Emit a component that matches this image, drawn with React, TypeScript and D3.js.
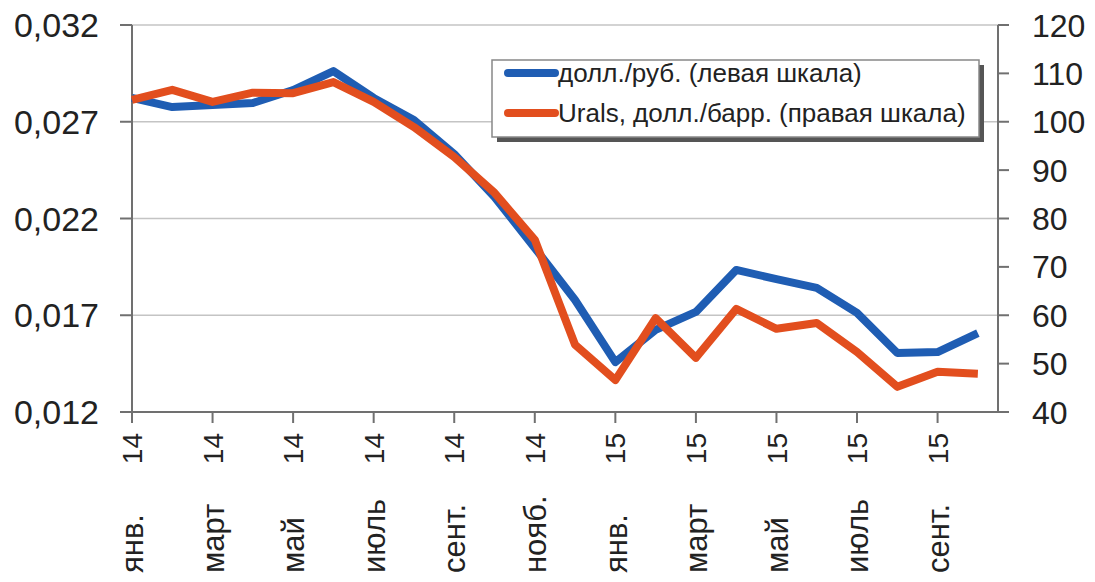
import { useRef, useEffect } from 'react';
import * as d3 from 'd3';

// monthly points, янв. 2014 – окт. 2015
const months = [
  'янв. 14', 'февр. 14', 'март 14', 'апр. 14', 'май 14', 'июнь 14',
  'июль 14', 'авг. 14', 'сент. 14', 'окт. 14', 'нояб. 14', 'дек. 14',
  'янв. 15', 'февр. 15', 'март 15', 'апр. 15', 'май 15', 'июнь 15',
  'июль 15', 'авг. 15', 'сент. 15', 'окт. 15',
];

const usdRub = [
  0.02823, 0.02776, 0.02787, 0.02797, 0.02864, 0.02962,
  0.02823, 0.02709, 0.02533, 0.02311, 0.02048, 0.01779,
  0.01458, 0.01624, 0.01717, 0.01934, 0.01887, 0.01841,
  0.01712, 0.01505, 0.0151, 0.01608,
];

const urals = [
  104.5, 106.6, 104.1, 106.0, 105.9, 108.2,
  104.1, 98.9, 92.7, 85.3, 75.6, 53.9,
  46.6, 59.4, 51.2, 61.3, 57.2, 58.4,
  52.4, 45.2, 48.3, 47.9,
];

const leftTicks = [0.012, 0.017, 0.022, 0.027, 0.032];
const rightTicks = [40, 50, 60, 70, 80, 90, 100, 110, 120];
const labelIdx = [0, 2, 4, 6, 8, 10, 12, 14, 16, 18, 20];

const legendItems = [
  { name: 'долл./руб. (левая шкала)', color: '#1f5db3' },
  { name: 'Urals, долл./барр. (правая шкала)', color: '#e24e1e' },
];

function App() {
  const svgRef = useRef(null);
  const width = 1095;
  const height = 582;

  useEffect(() => {
    document.body.style.margin = '0';
    const svg = d3.select(svgRef.current);
    svg.selectAll('*').remove();

    const font = 'Liberation Sans, Arial, sans-serif';
    const axisColor = '#707070';
    const top = 25;
    const bottom = 412;
    const left = 132;
    const right = 998;

    const x = d3.scaleLinear().domain([0, 21.5]).range([left, right]);
    const yL = d3.scaleLinear().domain([0.012, 0.032]).range([bottom, top]);
    const yR = d3.scaleLinear().domain([40, 120]).range([bottom, top]);

    // gridlines
    svg
      .append('g')
      .selectAll('line')
      .data(leftTicks.slice(1))
      .join('line')
      .attr('x1', left)
      .attr('x2', right)
      .attr('y1', (d) => yL(d))
      .attr('y2', (d) => yL(d))
      .attr('stroke', '#c4c4c4')
      .attr('stroke-width', 1.5);

    // left axis
    const gl = svg.append('g');
    gl.append('line')
      .attr('x1', left).attr('x2', left)
      .attr('y1', top).attr('y2', bottom)
      .attr('stroke', axisColor).attr('stroke-width', 2);
    gl.selectAll('line.t')
      .data(leftTicks)
      .join('line')
      .attr('class', 't')
      .attr('x1', left - 12).attr('x2', left)
      .attr('y1', (d) => yL(d)).attr('y2', (d) => yL(d))
      .attr('stroke', axisColor).attr('stroke-width', 2);
    gl.selectAll('text')
      .data(leftTicks)
      .join('text')
      .attr('x', 99)
      .attr('y', (d) => yL(d))
      .attr('dy', '0.36em')
      .attr('text-anchor', 'end')
      .attr('font-family', font)
      .attr('font-size', 34)
      .attr('fill', '#222')
      .text((d) => d3.format('.3f')(d).replace('.', ','));

    // right axis
    const gr = svg.append('g');
    gr.append('line')
      .attr('x1', right).attr('x2', right)
      .attr('y1', top).attr('y2', bottom)
      .attr('stroke', axisColor).attr('stroke-width', 2);
    gr.selectAll('line.t')
      .data(rightTicks)
      .join('line')
      .attr('class', 't')
      .attr('x1', right).attr('x2', right + 11)
      .attr('y1', (d) => yR(d)).attr('y2', (d) => yR(d))
      .attr('stroke', axisColor).attr('stroke-width', 2);
    gr.selectAll('text')
      .data(rightTicks)
      .join('text')
      .attr('x', 1032)
      .attr('y', (d) => yR(d))
      .attr('dy', '0.36em')
      .attr('font-family', font)
      .attr('font-size', 32)
      .attr('fill', '#222')
      .text((d) => d);

    // bottom axis
    const gb = svg.append('g');
    gb.append('line')
      .attr('x1', left - 12).attr('x2', right)
      .attr('y1', bottom).attr('y2', bottom)
      .attr('stroke', axisColor).attr('stroke-width', 2);
    gb.selectAll('line.t')
      .data(labelIdx)
      .join('line')
      .attr('class', 't')
      .attr('x1', (d) => x(d)).attr('x2', (d) => x(d))
      .attr('y1', bottom).attr('y2', bottom + 11)
      .attr('stroke', axisColor).attr('stroke-width', 2);
    const lab = gb.selectAll('g.lab')
      .data(labelIdx)
      .join('g')
      .attr('class', 'lab')
      .attr('transform', (d) => `translate(${x(d)},0) rotate(-90)`);
    lab.append('text')
      .attr('x', -433)
      .attr('y', 0)
      .attr('dy', '0.36em')
      .attr('text-anchor', 'end')
      .attr('font-family', font)
      .attr('font-size', 28)
      .attr('fill', '#222')
      .text((d) => months[d].split(' ')[1]);
    lab.append('text')
      .attr('x', -573)
      .attr('y', 0)
      .attr('dy', '0.36em')
      .attr('text-anchor', 'start')
      .attr('font-family', font)
      .attr('font-size', 31)
      .attr('fill', '#222')
      .text((d) => months[d].split(' ')[0]);

    // lines
    const lineL = d3.line<number>()
      .x((_, i) => x(i))
      .y((d) => yL(d));
    const lineR = d3.line<number>()
      .x((_, i) => x(i))
      .y((d) => yR(d));

    svg.append('path')
      .attr('d', lineL(usdRub))
      .attr('fill', 'none')
      .attr('stroke', legendItems[0].color)
      .attr('stroke-width', 8)
      .attr('stroke-linejoin', 'round');
    svg.append('path')
      .attr('d', lineR(urals))
      .attr('fill', 'none')
      .attr('stroke', legendItems[1].color)
      .attr('stroke-width', 8)
      .attr('stroke-linejoin', 'round');

    // legend
    const lg = svg.append('g');
    lg.append('rect')
      .attr('x', 497).attr('y', 65)
      .attr('width', 487).attr('height', 77)
      .attr('fill', '#555');
    lg.append('rect')
      .attr('x', 492).attr('y', 60)
      .attr('width', 487).attr('height', 77)
      .attr('fill', '#fff')
      .attr('stroke', '#888')
      .attr('stroke-width', 1.5);
    const li = lg.selectAll('g.item')
      .data(legendItems)
      .join('g')
      .attr('class', 'item')
      .attr('transform', (_, i) => `translate(0,${73 + i * 40})`);
    li.append('line')
      .attr('x1', 508).attr('x2', 555)
      .attr('stroke', (d) => d.color)
      .attr('stroke-width', 8)
      .attr('stroke-linecap', 'round');
    li.append('text')
      .attr('x', 558)
      .attr('dy', '0.36em')
      .attr('font-family', font)
      .attr('font-size', 26)
      .attr('fill', '#222')
      .text((d) => d.name);
  }, []);

  return (
    <svg ref={svgRef} width={width} height={height} style={{ display: 'block', background: '#fff' }}></svg>
  );
}

export default App;
